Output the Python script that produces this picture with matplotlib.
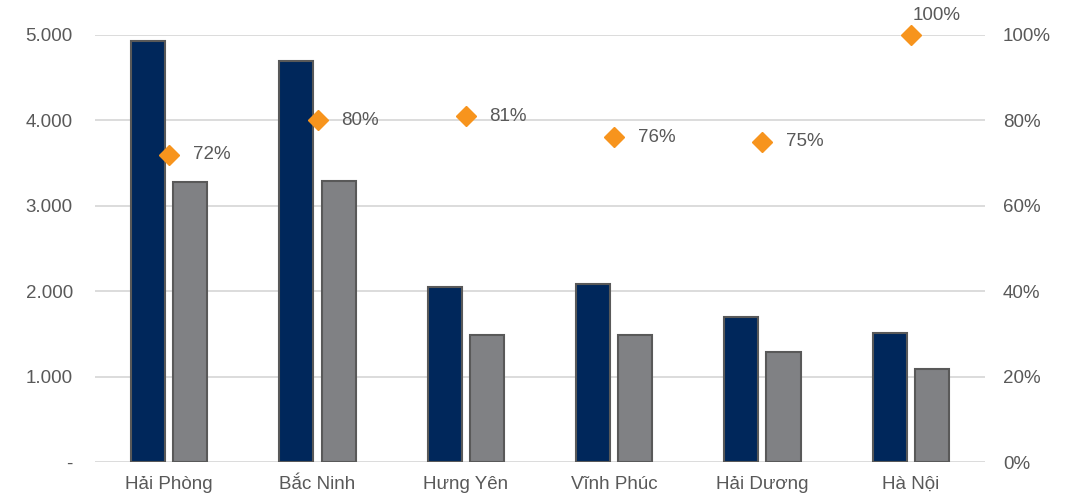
import matplotlib.pyplot as plt
import numpy as np

provinces = ['Hải Phòng', 'Bắc Ninh', 'Hưng Yên', 'Vĩnh Phúc', 'Hải Dương', 'Hà Nội']
dark_vals = [4930, 4690, 2050, 2085, 1700, 1510]
grey_vals = [3280, 3290, 1490, 1490, 1290, 1090]
pct_vals = [72, 80, 81, 76, 75, 100]

plt.rcParams['font.family'] = ['Liberation Sans', 'DejaVu Sans']
txt_col = '#595959'
fs = 13.5

fig = plt.figure(figsize=(10.74, 4.97), dpi=100)
ax = fig.add_axes([0.0885, 0.0704, 0.8285, 0.8592])
ax2 = ax.twinx()

x = np.arange(len(provinces))
w = 0.23
off = 0.142
ax.bar(x - off, dark_vals, w, color='#00275B', edgecolor='#595959', linewidth=1.5, zorder=3)
ax.bar(x + off, grey_vals, w, color='#808184', edgecolor='#595959', linewidth=1.5, zorder=3)

ax.set_xlim(-0.5, len(provinces) - 0.5)
ax.set_ylim(0, 5000)
ax.set_yticks([0, 1000, 2000, 3000, 4000, 5000])
ax.set_yticklabels(['-', '1.000', '2.000', '3.000', '4.000', '5.000'])
ax.set_xticks(x)
ax.set_xticklabels(provinces)
ax.yaxis.grid(True, color='#D9D9D9', linewidth=1.3, zorder=0)
ax.set_axisbelow(True)
ax.tick_params(axis='both', length=0, labelsize=fs, colors=txt_col)
ax.tick_params(axis='y', pad=16)
ax.tick_params(axis='x', pad=10)

ax2.plot(x, pct_vals, linestyle='none', marker='D', markersize=10,
         color='#F7941D', zorder=4, clip_on=False)
for xi, p in zip(x, pct_vals):
    if p >= 100:
        ax2.annotate(f'{p}%', (xi, p), xytext=(19, 14), textcoords='offset points',
                     ha='center', va='center', fontsize=fs, color=txt_col)
    else:
        ax2.annotate(f'{p}%', (xi, p), xytext=(17, 0), textcoords='offset points',
                     ha='left', va='center', fontsize=fs, color=txt_col)
ax2.set_ylim(0, 100)
ax2.set_yticks([0, 20, 40, 60, 80, 100])
ax2.set_yticklabels([f'{v}%' for v in [0, 20, 40, 60, 80, 100]])
ax2.tick_params(axis='y', length=0, labelsize=fs, colors=txt_col, pad=13)

for a in (ax, ax2):
    for s in a.spines.values():
        s.set_visible(False)

fig.savefig('out.png', dpi=100, facecolor='white')
